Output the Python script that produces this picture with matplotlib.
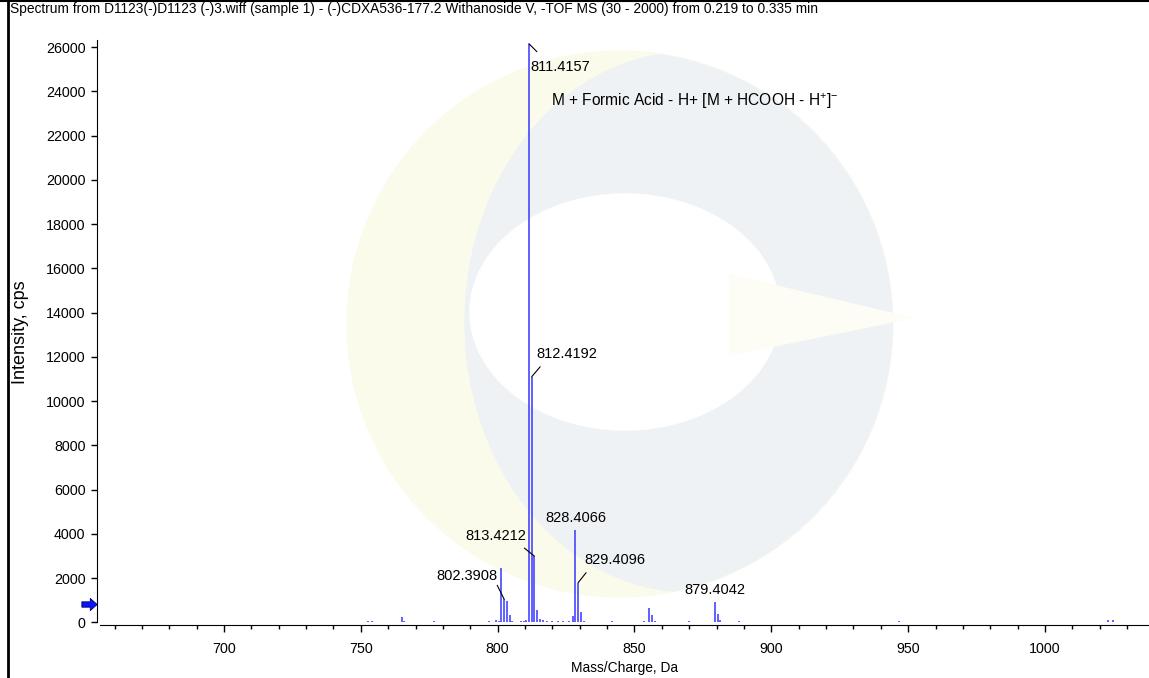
import matplotlib
matplotlib.use("Agg")
import matplotlib.pyplot as plt
from matplotlib.patches import Ellipse, Polygon
from matplotlib.lines import Line2D
from matplotlib.path import Path
import numpy as np

# Spectrum data (m/z, intensity in cps)
mz = [690.0, 696.0, 713.0, 736.0, 752.6, 754.0, 764.9, 765.9, 776.7, 783.5,
      786.0, 789.0, 794.6, 797.0, 799.4, 800.4, 801.39, 802.3908, 803.39, 804.40,
      805.4, 808.5, 809.6, 810.4, 811.4157, 812.4192, 813.4212, 814.42, 815.4, 816.4,
      818.0, 820.0, 822.0, 824.0, 826.0, 827.4, 828.4066, 829.4096, 830.41, 831.4,
      841.7, 845.0, 853.5, 855.40, 856.40, 857.4, 870.0, 878.2, 879.4042, 880.41,
      881.4, 888.3, 895.0, 898.0, 902.0, 912.0, 925.0, 940.0, 946.6, 960.0,
      975.0, 990.0, 1005.0, 1015.0, 1023.0, 1025.0, 1033.0]
intensity = [40, 40, 35, 40, 60, 50, 230, 90, 70, 40,
             40, 40, 40, 50, 110, 70, 2480, 1050, 960, 330,
             90, 60, 80, 120, 26150, 11100, 3000, 580, 150, 100,
             60, 50, 50, 50, 50, 280, 4200, 1800, 460, 80,
             60, 40, 50, 660, 320, 70, 70, 40, 930, 400,
             100, 70, 40, 40, 40, 30, 40, 40, 60, 40,
             30, 40, 30, 40, 130, 100, 30]

label_mz = [811.4157, 812.4192, 813.4212, 828.4066, 829.4096, 802.3908, 879.4042]
label_int = [26150, 11100, 3000, 4200, 1800, 1050, 930]
label_text = ["811.4157", "812.4192", "813.4212", "828.4066", "829.4096", "802.3908", "879.4042"]

title = ("Spectrum from D1123(-)D1123 (-)3.wiff (sample 1) - (-)CDXA536-177.2 "
         "Withanoside V, -TOF MS (30 - 2000) from 0.219 to 0.335 min")
adduct_note = "M + Formic Acid - H+ [M + HCOOH - H$^{+}$]$^{-}$"

# label placement: text offset (px), alignment, leader end offset (px) or None
label_style = {
    "811.4157": ((1, -23), "left", (8, -8)),
    "812.4192": ((5, 23), "left", (8.5, 10)),
    "813.4212": ((-8, 20), "right", (-10, 8)),
    "828.4066": ((0, 12), "center", None),
    "829.4096": ((6, 23), "left", (8, 10)),
    "802.3908": ((-7, 23), "right", (-7, 14)),
    "879.4042": ((0, 12), "center", None),
}

plt.rcParams["font.family"] = ["Liberation Sans", "DejaVu Sans"]
plt.rcParams["mathtext.fontset"] = "custom"
plt.rcParams["mathtext.rm"] = "Liberation Sans"

W, H = 1149, 678
fig = plt.figure(figsize=(W / 100, H / 100), dpi=100)

def fx(x):
    return x / W

def fy(y):
    return 1 - y / H

# faint logo watermark behind the plot
outer = Ellipse((fx(620), fy(324)), 2 * 273 / W, 2 * 273 / H,
                transform=fig.transFigure, color="#fbfbec", zorder=-5)
fig.add_artist(outer)
grey = Ellipse((fx(690), fy(322)), 2 * 225 / W, 2 * 270 / H,
               transform=fig.transFigure, color="#eff2f5", zorder=-4)
fig.add_artist(grey)
grey.set_clip_path(outer)
inner = Ellipse((fx(625), fy(312)), 2 * 155 / W, 2 * 118 / H,
                transform=fig.transFigure, color="#ffffff", zorder=-3)
fig.add_artist(inner)
spike = Polygon([(fx(730), fy(275)), (fx(912), fy(318)), (fx(730), fy(355))],
                closed=True, transform=fig.transFigure, color="#fdfdf6", zorder=-3)
fig.add_artist(spike)

# frame lines of the exported picture
fig.add_artist(Line2D([fx(8), fx(8)], [0, 1], color="black", lw=2, transform=fig.transFigure))
fig.add_artist(Line2D([0, 1], [fy(0.5), fy(0.5)], color="black", lw=1.5, transform=fig.transFigure))

fig.text(fx(10), fy(9), title, fontsize=9.9, ha="left", va="center")

ax = fig.add_axes([fx(100), fy(625), fx(1049), (625 - 40) / H])
ax.set_facecolor("none")

ax.vlines(mz, 0, intensity, color="#4646ff", lw=1.2, zorder=3)

ax.set_xlim(654.7, 1038.0)
ax.set_ylim(-113, 26317)
ax.set_xticks(np.arange(700, 1001, 50))
ax.set_xticks(np.arange(660, 1031, 10), minor=True)
ax.set_yticks(np.arange(0, 26001, 2000))

for s in ["top", "right"]:
    ax.spines[s].set_visible(False)
ax.spines["left"].set_position(("outward", 2.5))
ax.spines["left"].set_bounds(0, 26317)
ax.tick_params(axis="x", which="major", direction="out", length=5, width=1, labelsize=10.3, pad=7)
ax.tick_params(axis="x", which="minor", direction="out", length=3, width=1)
ax.tick_params(axis="y", direction="out", length=4, width=1, labelsize=10.3, pad=4)

ax.set_xlabel("Mass/Charge, Da", fontsize=9.9, labelpad=4)
ax.set_ylabel("Intensity, cps", fontsize=13)
ax.yaxis.set_label_coords(-0.068, 0.5)

for m, h, t in zip(label_mz, label_int, label_text):
    (dx, dy), ha, leader = label_style[t]
    ax.annotate(t, xy=(m, h), xytext=(dx, dy), textcoords="offset pixels",
                ha=ha, va="center", fontsize=10.5, zorder=5)
    if leader is not None:
        ax.annotate("", xy=(m, h), xytext=leader, textcoords="offset pixels",
                    arrowprops=dict(arrowstyle="-", color="black", lw=0.8,
                                    shrinkA=0, shrinkB=0), zorder=5)

ax.annotate(adduct_note, xy=(811.4157, 26150), xytext=(22, -58),
            textcoords="offset pixels", ha="left", va="center", fontsize=11.2)

# blue marker arrow on the intensity axis
arrow = Path([(-1, -0.35), (0.1, -0.35), (0.1, -0.8), (1, 0), (0.1, 0.8),
              (0.1, 0.35), (-1, 0.35), (-1, -0.35)])
ax.plot([-0.0105], [830], marker=arrow, markersize=11, color="#0a14ff",
        markeredgecolor="#000066", markeredgewidth=0.6,
        transform=ax.get_yaxis_transform(), clip_on=False, zorder=6)

fig.savefig("out.png", dpi=100)
